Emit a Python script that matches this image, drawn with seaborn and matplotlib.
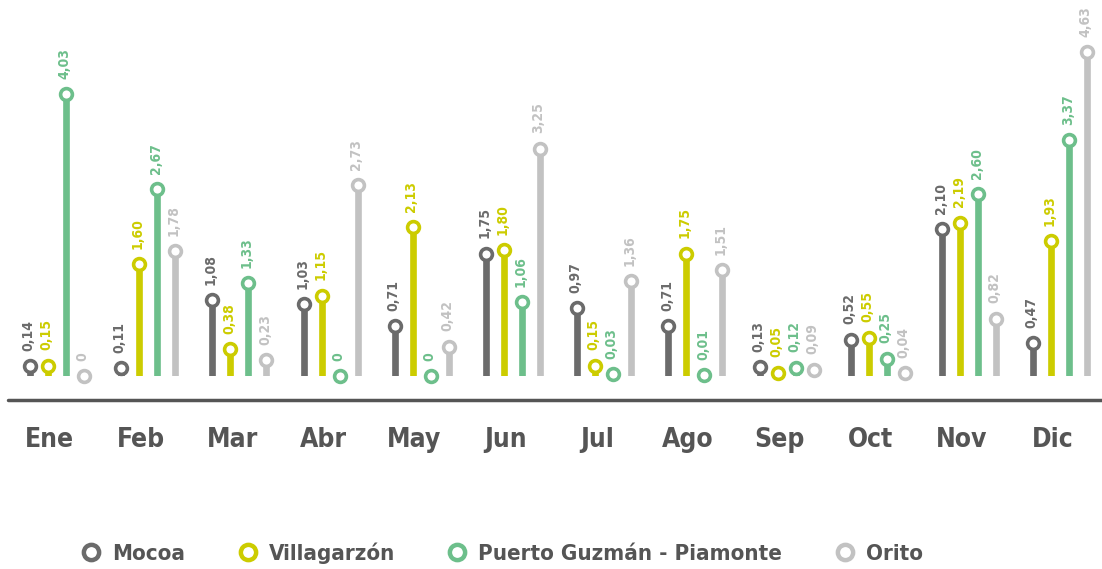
import numpy as np
import pandas as pd
import seaborn as sns
from matplotlib import pyplot as plt
from matplotlib.lines import Line2D

months = ["Ene", "Feb", "Mar", "Abr", "May", "Jun", "Jul", "Ago", "Sep", "Oct", "Nov", "Dic"]
series = ["Mocoa", "Villagarzón", "Puerto Guzmán - Piamonte", "Orito"]
mocoa = [0.14, 0.11, 1.08, 1.03, 0.71, 1.75, 0.97, 0.71, 0.13, 0.52, 2.10, 0.47]
villagarzon = [0.15, 1.60, 0.38, 1.15, 2.13, 1.80, 0.15, 1.75, 0.05, 0.55, 2.19, 1.93]
puerto = [4.03, 2.67, 1.33, 0, 0, 1.06, 0.03, 0.01, 0.12, 0.25, 2.60, 3.37]
orito = [0, 1.78, 0.23, 2.73, 0.42, 3.25, 1.36, 1.51, 0.09, 0.04, 0.82, 4.63]
colors = ["#6b6b6b", "#cccc00", "#6dbf8b", "#c2c2c2"]

values = [mocoa, villagarzon, puerto, orito]
offsets = [-0.296, -0.099, 0.099, 0.296]

rows = []
for s, vals, off in zip(series, values, offsets):
    for i, (m, v) in enumerate(zip(months, vals)):
        rows.append({"month": m, "series": s, "value": v, "x": i + off})
df = pd.DataFrame(rows)

sns.set_style("white")
plt.rcParams["font.family"] = ["DejaVu Sans"]
plt.rcParams["font.stretch"] = "condensed"
text_col = "#555555"

fig = plt.figure(figsize=(11.02, 5.69), dpi=100)
ax = fig.add_axes([0, 1 - 376 / 569, 1, 376 / 569])
ax.set_xlim(-0.625, 11.458)
ax.set_ylim(0, 376 / 70)

for s, c in zip(series, colors):
    d = df[df["series"] == s]
    ax.vlines(d["x"], 0, d["value"], color=c, linewidth=4.8, zorder=1)
    sns.scatterplot(data=d, x="x", y="value", ax=ax, s=72, color=c,
                    facecolor="white", edgecolor=c, linewidth=2.6, zorder=3,
                    clip_on=False, legend=False)
    for _, r in d.iterrows():
        lab = "0" if r["value"] == 0 else ("%.2f" % r["value"]).replace(".", ",")
        ax.annotate(lab, (r["x"], r["value"]), xytext=(-1, 11), textcoords="offset points",
                    rotation=90, ha="center", va="bottom", color=c,
                    fontsize=10, fontweight="bold", annotation_clip=False)

ax.axhline(-24 / 70, xmin=8 / 1102, xmax=1, color=text_col, linewidth=2.5, clip_on=False)
for i, m in enumerate(months):
    ax.text(i - 0.08, -64 / 70, m, ha="center", va="center", fontsize=19,
            fontweight="bold", color=text_col, clip_on=False)

ax.axis("off")

handles = [Line2D([], [], linestyle="none", marker="o", markersize=11, markerfacecolor="white",
                  markeredgecolor=c, markeredgewidth=3.2) for c in colors]
leg = fig.legend(handles, series, loc="center", bbox_to_anchor=(0.455, 0.028), ncol=4,
                 frameon=False, handlelength=1.0, handletextpad=0.45, columnspacing=2.3,
                 prop={"size": 16, "weight": "bold"})
for t in leg.get_texts():
    t.set_color(text_col)

plt.savefig("out.png", dpi=100)
plt.close()
